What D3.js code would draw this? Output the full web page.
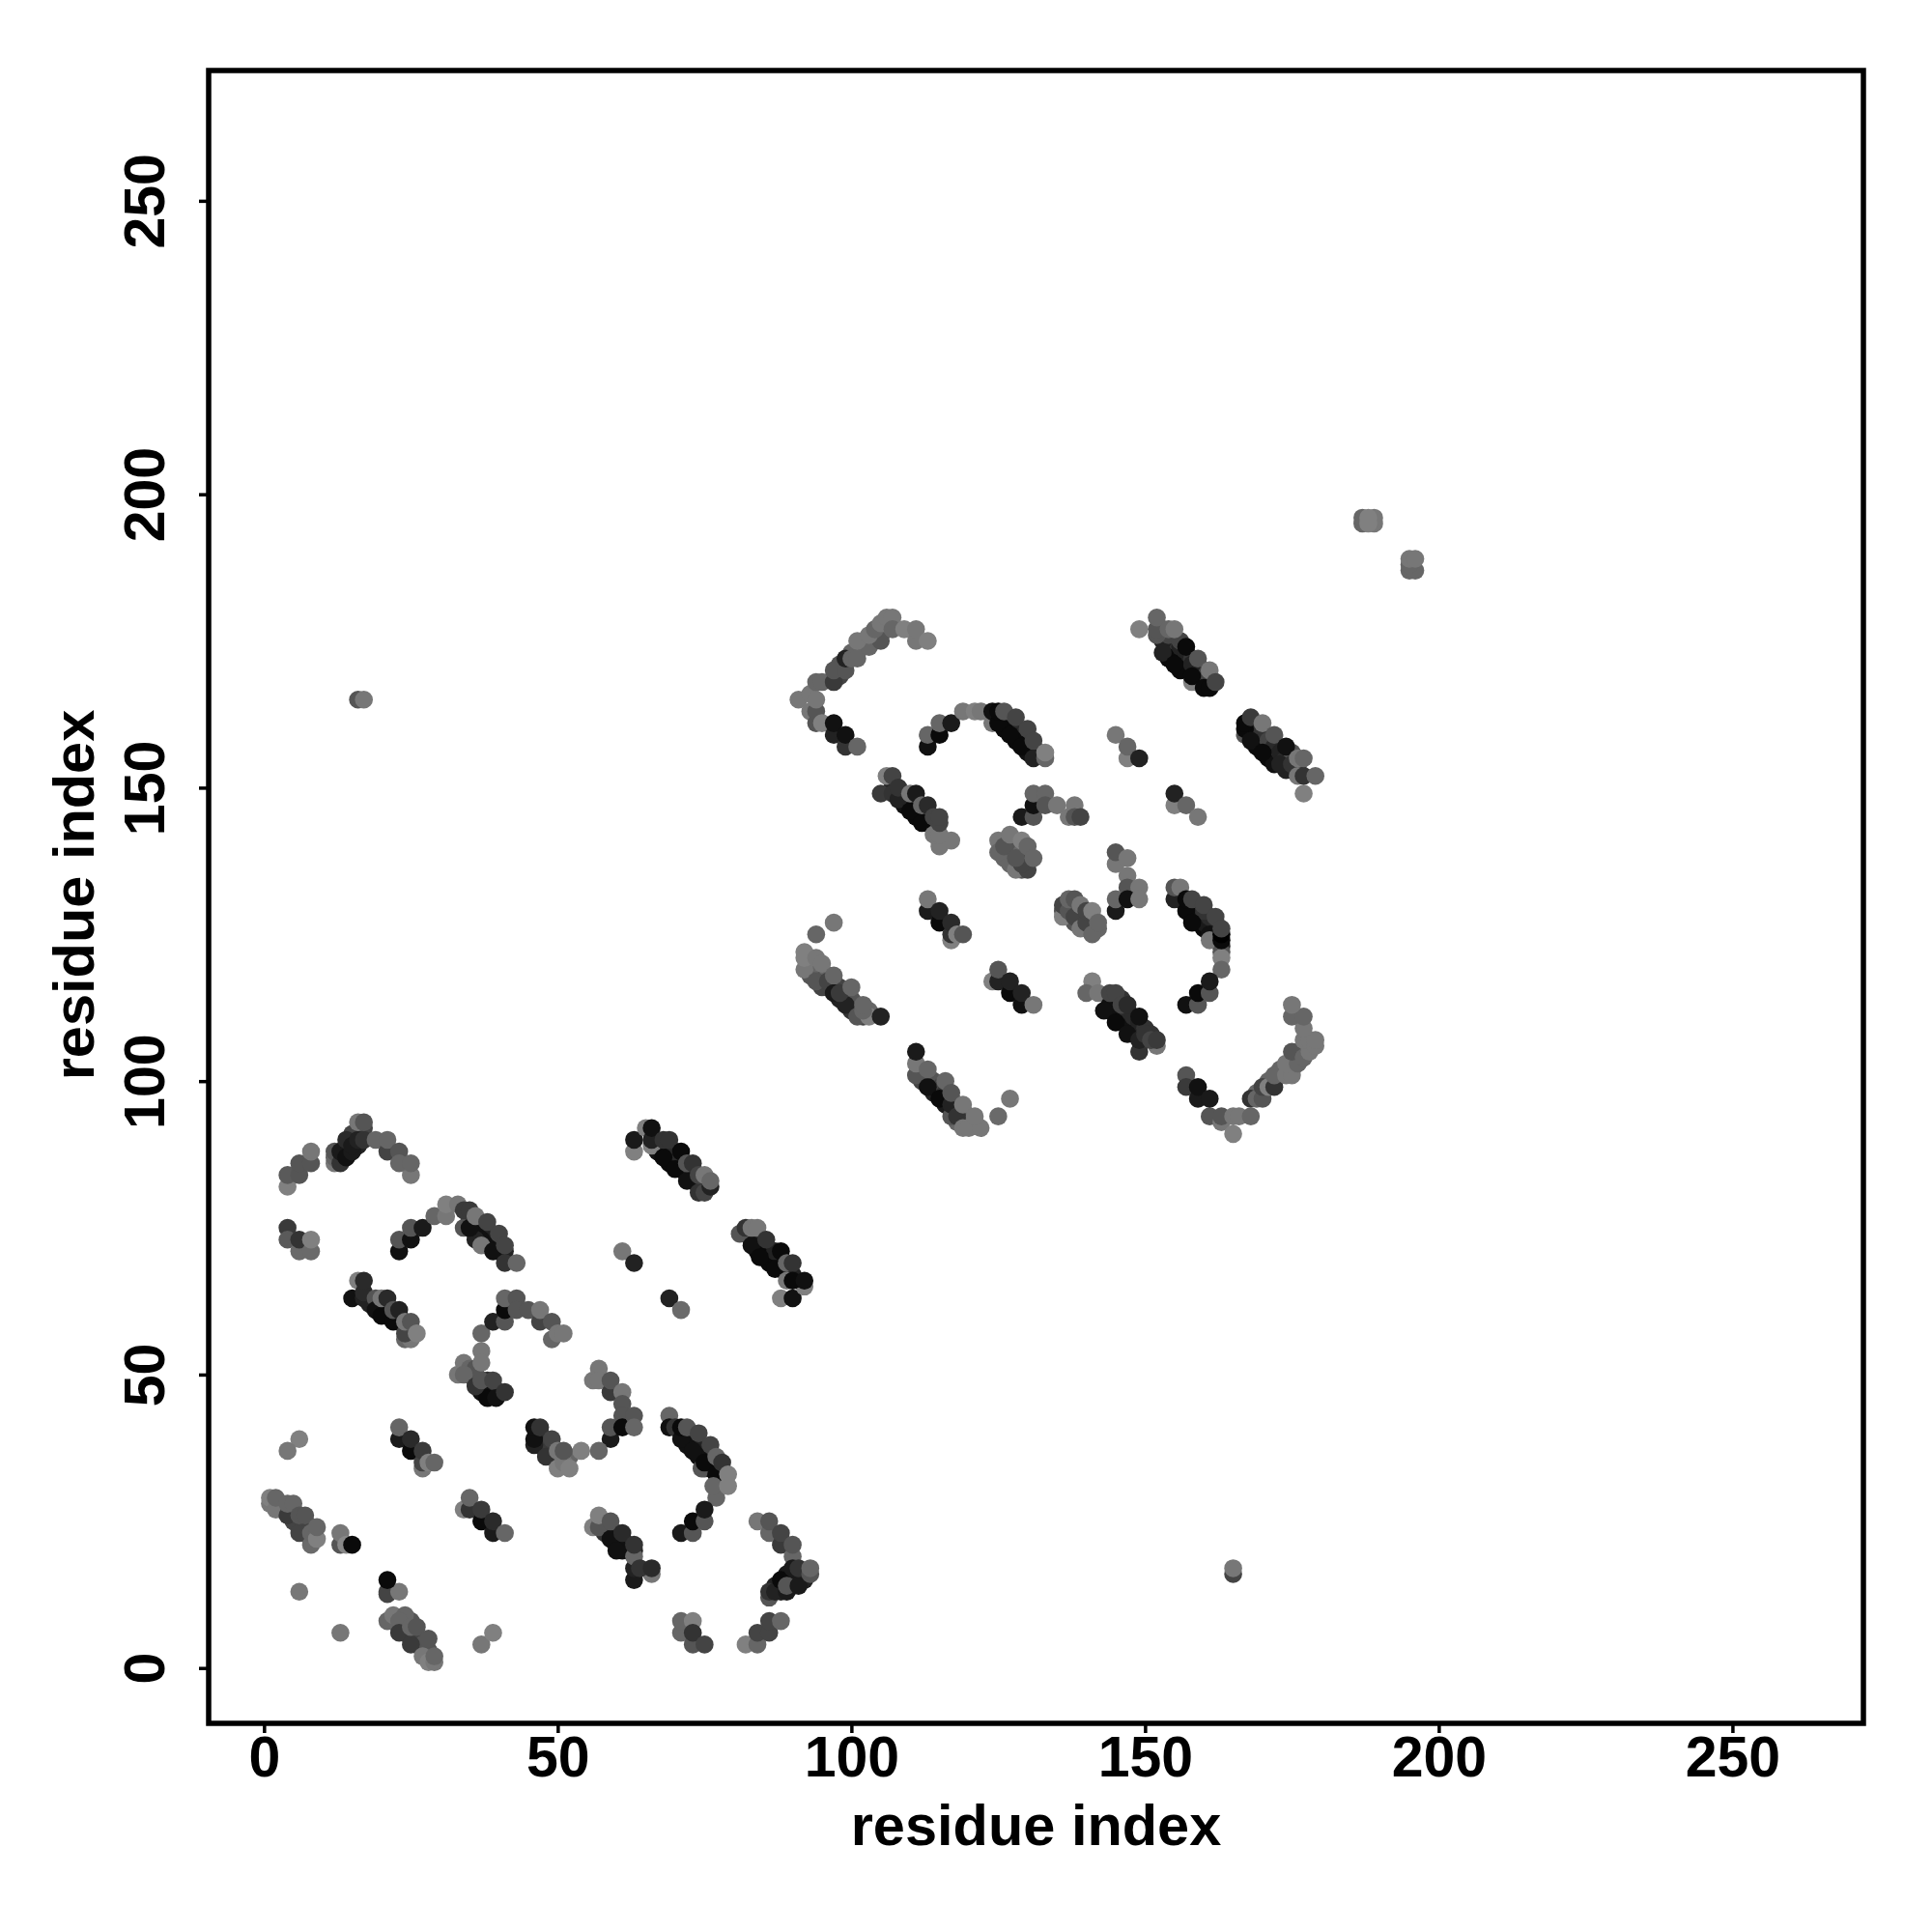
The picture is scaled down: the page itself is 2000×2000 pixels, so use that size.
<!DOCTYPE html>
<html><head><meta charset="utf-8">
<script src="https://cdn.jsdelivr.net/npm/d3@7/dist/d3.min.js"></script>
<style>html,body{margin:0;padding:0;background:#fff}svg{display:block}</style></head>
<body><div id="chart"></div>
<script>
// each contact: [residue i, residue j, grey level]
const arcA=[[4,82,128],[4,84,90],[6,84,85],[6,86,85],[8,86,85],[8,88,119],[12,86,119],[12,87,102],[12,88,85],[13,86,51],[13,88,26],[14,87,17],[15,88,26],[14,90,42],[15,89,26],[16,90,34],[17,90,51],[16,93,119],[17,93,85],[19,90,102],[21,88,68],[21,90,102],[23,88,85],[25,84,119],[23,86,102],[25,86,102]];
const blockB=[[4,75,58],[4,73,90],[6,71,106],[6,73,51],[8,71,106],[8,73,128]];
const arcC=[[23,71,17],[23,73,85],[25,73,17],[25,75,85],[27,75,26],[29,77,102],[31,77,119],[31,79,128],[33,79,119],[34,75,85],[36,73,34],[35,75,17],[37,72,119],[39,71,17],[41,69,51],[34,78,58],[35,78,58],[36,77,119],[38,76,68],[40,74,68],[41,72,68],[43,69,102]];
const strandD=[[16,66,128],[15,63,17],[17,63,34],[17,64,42],[17,66,42],[19,63,85],[19,61,17],[20,60,10],[22,59,10],[20,63,119],[21,63,42],[22,61,85],[23,61,34],[24,56,102],[25,56,119],[24,57,68],[24,59,119],[25,59,85],[26,57,128]];
const arcE=[[37,57,102],[39,59,34],[41,59,85],[41,61,10],[41,63,102],[43,63,85],[43,61,85],[45,61,85],[47,59,68],[47,61,119],[49,59,85],[49,56,102],[50,57,119],[37,54,119],[51,57,119],[57,51,119]];
const blockF=[[34,52,119],[35,51,102],[36,51,85],[37,52,119],[33,50,119],[34,50,102],[38,46,10],[39.5,46,17],[36,48,51],[37,49,85],[39,49,68],[41,47,51]];
const pairsG=[[6,39,128],[4,37,119],[6,13,119],[13,6,119],[37,4,119],[39,6,128],[13,21,85],[13,23,119],[14,21,136],[15,21,10],[21,13,68],[21,12.6,68],[23,13,119],[21,15,10]];
const strandH=[[23,39,26],[23,41,102],[25,37,10],[25,39,42],[27,34,119],[27,35,68],[27,37,58],[28,35,128],[29,35,102]];
const strandI=[[46,38,34],[46,39,17],[46,41,17],[47,41,51],[48,36,51],[49,39,68],[50,34,128],[50,37,119],[52,36,102],[51,35,119],[52,34,128],[54,37,128],[51,37,85]];
const strandJ=[[34,27,128],[35,27,51],[35,29,102],[37,25,10],[37,27,58],[39,23,26],[39,25,42],[41,23,102]];
const strandK=[[1,28,119],[1,29,128],[2,27,119],[2,29,102],[5,25,68],[4,26,58],[4,28,102],[5,28,102],[6,23,68],[6,26,85],[7,26,85],[8,21,106],[8,23,102],[9,22,128],[9,24,102]];
const strandL=[[21,8,102],[22,9,119],[24,9,102],[23,8,102],[23,6,58],[25,4,58],[25,7,102],[26,7,85],[28,5,85],[27,2,119],[28,1,128],[29,1,119],[29,2,102]];
const arcM=[[56,49,119],[57,49,119],[59,47,58],[59,49,85],[61,47,119],[61,45,85],[61,43,85],[59,39,26],[59,41,85],[61,41,10],[63,43,85],[63,41,102],[57,37,102]];
const strandN=[[69,43,102],[69,41,17],[70,41,51],[71,39,17],[73,37,17],[71,41,10],[74.5,34,85],[75,35,10],[72,41,85],[74,40,68],[76,38,68],[77,33,10],[77,29,102],[76.5,31,102],[77,36,102],[78,35,51],[79,31,128],[79,33,128]];
const hookO=[[71,23,26],[73,23,85],[73,25,10],[75,25,85],[75,27,26]];
const strandP=[[56,24,128],[57,24,85],[57,26,128],[59,22,17],[59,25,85],[60,20,17],[61,23,42],[63,15,26],[63,17,34],[63,19,102],[63,21,51],[66,16,119],[64,17,51],[66,17,42]];
const arcQ=[[84,25,119],[86,23,102],[86,25,85],[88,21,58],[88,23,68],[90,19,102],[90,21,85],[86,12,85],[86,13,51],[87,13,34],[89,13,26],[88,15,10],[89,14,85],[91,14,26],[90,17,26],[91,17,51],[93,16,85],[93,17,102]];
const cornerR=[[71,6,102],[71,8,102],[73,8,128],[73,4,85],[73,6,51],[75,4,68]];
const cornerS=[[82,4,128],[84,4,102],[84,6,68],[86,6,68],[86,8,68],[88,8,102]];
const strandT=[[63,88,128],[63,90,26],[65,92,128],[66,89,128],[66,90,34],[66,92,17],[68,87,10],[70,85,10],[72,83,17],[74,81,51],[75,81,68],[68,90,51],[69,90,51],[71,88,10],[72,86,85],[73,86,51],[74,84,68],[76,82,34],[75,84,119],[76,83,102]];
const strandU=[[81,74,85],[82,75,51],[83,72,17],[84.4,70,10],[87,68,10],[88,63,128],[90,63,17],[83,75,119],[84,75,119],[85.5,73,51],[88,71,10],[89,66,119],[89,69,102],[90,69,51],[92,65,128],[90,66,10],[92,66,17]];
const pairsV=[[61,71,119],[63,69,34],[69,63,34],[71,61,106]];
const arcW=[[91,165,119],[93,166,119],[93,163,119],[94,161,85],[94,163,85],[94,165,119],[94,168,102],[95,168,102],[95,161,128],[97,159,34],[97,161,17],[99,157,51],[99,159,17],[101,157,102]];
const arcX=[[97,168,58],[97,170,85],[99,170,85],[99,172,34],[100,172,102],[101,172,102],[103,174,102],[101,175,119],[105,175,85],[103,176,119],[104,177,102],[105,178,119],[106,179,119],[107,179,119],[107,177,102],[109,177,128],[111,175,119],[111,177,119],[113,175,128]];
const arcY=[[113,157,17],[113,159,102],[115,159,10],[115,161,102],[117,161,26],[119,163,119],[121,163,128],[122,163,119],[124,161,119],[124,163,17],[125,161,10],[125,163,10],[127,159,10],[129,157,10],[126,163,85],[128,162,68],[130,160,68],[131,155,34],[131,158,68],[133,155,102],[133,156,128]];
const strandZ=[[106,152,128],[105,149,58],[107,149,51],[107,152,68],[108,148,34],[108,150,51],[110,146,10],[110,149,119],[111,149,26],[112,144,10],[112,147,102],[113,147,42],[115,140,119],[117,141,119],[114,142,119],[115,142,119],[114,145,68],[115,144,68],[115,145,68]];
const ridgeAA=[[129,145,26],[131,145,85],[131,147,17],[131,149,102],[133,149,102],[133,147,85],[135,147,119],[137,145,119],[138,147,119],[138,145,85],[139,145,68]];
const clusterAB=[[125,141,119],[125,139,102],[126,140,85],[127,142,119],[128,136,119],[130,136,68],[129,137,68],[128,138,85],[129,141,128],[130,140,102],[131,138,102]];
const strandAC=[[113,129,26],[113,131,119],[115,127,10],[115,129,34],[117,124,128],[117,125,51],[117,127,42],[118,125,128],[119,125,85]];
const strandAD=[[97,127,119],[94,125,102],[92,119,119],[92,121,128],[92,122,128],[94,117,85],[96,117,68],[97,115,26],[94,121,119],[95,120,119],[99,113,34],[98,115,58],[97,118,102],[101,111,85],[100,116,102],[103,111,128],[102,112,102],[102,113,102],[105,111,34]];
const strandAE=[[124,117,128],[125,117,34],[125,119,85],[127,115,10],[127,117,34],[129,113,17],[129,115,34],[131,113,119]];
const strandAF=[[111,101,85],[111,103,119],[111,105,26],[113,99,17],[115,97,10],[113,102,102],[117,94,85],[117,96,34],[118,94,51],[116,100,102],[117,98,85],[119,92,119],[120,92,119],[122,92,119],[119,96,119],[121,94,119],[125,94,106],[127,97,119]];
const strandAG=[[149,177,128],[152,176,85],[152,177,85],[152,179,102],[153,173,34],[155,171,10],[154,177,102],[155,177,119],[157,174,10],[158,168,128],[158,169,10],[160,167,10],[161,167,10],[159,172,85],[161,170,119],[162,168,68]];
const strandAH=[[167,159,85],[167,160,10],[167,161,10],[168,158,17],[168,162,58],[170,156,10],[170,161,119],[172,159,85],[173,154,34],[174,157,17],[175,154,51],[176,152,119],[177,149,128],[177,152,51],[176,155,119],[177,155,102],[179,152,102]];
const pairsAI=[[145,159,119],[147,155,128],[147,157,102],[149,155,34],[155,147,128],[155,149,34],[157,147,102],[159,145,119]];
const towerAJ=[[145,137,119],[145,139,85],[147,138,119],[147,135,119],[147,133,85],[149,133,119],[145,129,26],[145,131,102],[147,131,17],[149,131,119]];
const clusterAK=[[136,128,128],[136,130,68],[137,129,85],[137,131,102],[138,128,68],[138,131,85],[139,126,119],[139,130,119],[140,127,68],[140,129,68],[141,125,102],[141,129,128],[142,127,102]];
const strandAL=[[155,131,34],[155,133,85],[156,133,119],[157,129,10],[157,131,10],[158,127,10],[158,131,68],[160,130,68],[161,125,17],[161,124,119],[162,128,68],[163,122,85],[163,121,128],[163,119,102],[163,124,10],[163,125,0],[163,126,68]];
const hookAM=[[157,113,17],[159,113,85],[159,115,10],[161,115,85],[161,117,26]];
const strandAN=[[141,117,128],[140,115,102],[142,115,119],[144,113,17],[143,112,17],[145,110,10],[144,115,68],[145,115,68],[146,113,68],[147,113,42],[147,108,17],[149,105,51],[149,107,34],[149,111,17],[150,108,51],[152,106,119],[151,107,68],[152,107,58]];
const arcAO=[[157,101,85],[157,99,58],[159,97,26],[159,99,17],[161,94,85],[161,97,26],[163,93,119],[163,94,85],[165,91,128],[165,94,119],[166,94,119],[168,97,51],[168,94,102],[169,97,102],[170,97,85],[170,99,68],[171,99,128],[172,99,51],[172,101,102],[174,101,119],[175,101,119],[174,103,119],[176,103,102],[175,105,85],[177,104,102],[178,105,119],[177,107,119],[178,107,119],[179,106,119],[179,107,119],[177,109,119],[175,111,102],[177,111,102],[175,113,119]];
const isolatedAP=[[16,165,85],[17,165,119],[165,16,68],[165,17,119],[187,195,102],[187,196,102],[189,195,119],[189,196,119],[188,195,128],[188,196,128],[195,187,102],[196,187,102],[195,188,102],[195,189,119],[196,189,119]];
// ribbon interiors where the marks overlap into a solid band
const ribbonLow=[[35,76,17],[36,75,17],[37,74,17],[38,73,17],[39,72,17],[40,71,17],[37,75,34],[38,74,34],[39,73,34],[40,72,34],[41,71,34],[36,74,17],[37,73,17],[38,72,17],[18,62,34],[19,62,34],[20,61,34],[21,60,34],[22,60,34],[23,59,34],[21,61,34],[23,60,34],[35,50,51],[36,49,51],[37,48,51],[38,47,51],[38,48,51],[39,47,51],[36,50,68],[37,49,51],[38,49,51],[39,48,51],[40,47,51],[37,47,17],[47,40,58],[47,39,58],[48,38,58],[49,37,68],[48,37,58],[49,38,58],[50,36,85],[51,36,85],[47,38,58],[50,35,85],[3,27,68],[4,27,68],[5,26,68],[6,25,68],[7,24,68],[8,24,85],[7,25,68],[6,24,68],[5,27,85],[3,28,85],[7,23,68],[23,7,68],[24,6,68],[25,5,68],[26,4,68],[27,3,85],[24,7,68],[25,6,68],[26,5,68],[27,4,85],[28,3,85],[28,2,85],[24,8,85],[25,8,85],[71,40,17],[72,39,17],[73,38,17],[74,37,17],[75,36,17],[76,35,17],[73,39,34],[74,38,34],[75,37,34],[76,36,34],[77,35,34],[72,38,17],[74,36,17],[75,34,85],[76,34,17],[58,24,34],[59,23,34],[60,22,34],[61,21,34],[62,20,34],[63,20,34],[60,23,42],[61,22,42],[62,21,42],[60,21,17],[61,20,17],[58,23,51],[88,14,26],[89,15,26],[90,15,26],[90,14,26],[91,16,34],[92,16,34],[88,13,34],[89,16,26],[92,15,34],[87,14,34],[14,88,26],[15,90,42],[16,89,34],[16,92,85],[17,92,68],[14,89,42],[13,87,34],[15,91,68]];
const ribbonMid=[[67,89,26],[68,88,17],[69,87,17],[70,86,17],[71,85,17],[72,84,17],[73,83,17],[74,82,26],[67,88,17],[68,89,42],[69,86,10],[70,87,26],[71,86,26],[72,85,34],[73,84,34],[74,83,34],[75,82,51],[69,88,42],[70,88,42],[82,74,17],[83,73,17],[84,72,17],[85,71,17],[86,70,17],[87,69,17],[88,68,17],[89,67,17],[84,73,34],[85,72,34],[86,71,34],[87,70,34],[88,69,34],[89,68,34],[90,67,34],[84,71,10],[85,70,10],[86,69,10],[87,71,34],[126,161,10],[127,160,10],[128,159,10],[129,158,10],[130,157,10],[128,160,42],[129,159,42],[130,158,42],[127,161,42],[131,157,42],[132,156,68],[126,160,10],[128,158,10],[130,156,17],[107,150,34],[108,149,34],[109,148,34],[110,147,26],[111,146,17],[112,145,17],[113,144,26],[109,149,42],[110,148,51],[111,147,51],[112,146,51],[113,145,51],[114,144,68],[109,147,17],[111,145,10],[126,139,85],[127,138,85],[127,140,85],[128,139,85],[127,137,102],[129,139,102],[130,138,85],[129,136,85],[126,138,102]];
const ribbonHigh=[[93,120,102],[94,119,85],[95,118,68],[96,116,58],[98,114,34],[99,114,34],[100,113,51],[100,112,51],[101,113,68],[102,111,68],[93,118,85],[95,116,68],[97,117,85],[98,116,68],[99,115,68],[100,114,85],[101,112,68],[96,118,102],[94,120,102],[93,121,119],[103,112,102],[112,101,85],[113,100,68],[114,99,51],[115,98,34],[116,97,26],[117,95,34],[118,95,51],[119,94,68],[120,93,85],[112,100,68],[114,98,34],[116,96,26],[114,100,85],[115,99,68],[116,98,51],[117,97,51],[118,96,85],[119,95,85],[120,94,102],[121,93,119],[113,101,85],[118,93,102],[154,174,17],[155,173,10],[156,172,10],[157,171,10],[158,170,10],[159,169,10],[160,168,17],[154,172,10],[156,170,10],[155,175,51],[156,174,34],[157,173,34],[158,172,51],[159,171,51],[160,170,68],[161,169,68],[153,175,34],[153,177,85],[154,176,68],[156,175,68],[158,171,34],[168,160,17],[169,159,10],[170,158,10],[171,157,10],[172,156,17],[173,155,17],[174,154,26],[175,153,26],[169,157,10],[171,155,10],[172,154,17],[169,160,51],[170,159,51],[171,158,68],[172,157,42],[173,156,34],[174,155,42],[175,156,85],[176,154,85],[176,153,51],[174,153,34]];
const ribbonUpper=[[137,130,85],[138,129,85],[139,128,85],[140,128,85],[139,127,85],[141,127,85],[141,126,85],[142,126,102],[138,127,85],[136,129,85],[139,129,85],[140,126,102],[158,130,10],[159,129,10],[160,128,17],[161,127,17],[162,126,17],[159,127,10],[160,126,10],[161,126,10],[158,129,10],[159,128,26],[160,127,26],[161,128,42],[162,127,42],[162,125,10],[163,123,34],[157,130,10],[162,124,10],[160,129,51],[145,114,26],[146,112,26],[147,111,26],[148,110,26],[148,109,34],[149,109,42],[150,107,42],[145,112,10],[146,111,10],[147,110,17],[146,114,51],[147,112,42],[148,111,42],[149,110,34],[150,109,51],[145,113,26],[144,112,17],[151,108,51],[173,102,102],[175,103,102],[176,104,102],[176,105,119],[177,105,102],[178,106,119],[173,101,102],[171,100,102],[169,98,102],[98,169,68],[98,171,85],[100,173,102],[102,174,102],[102,175,102],[104,176,102],[105,176,102],[106,177,102],[104,175,102],[106,178,119]];
const contactGroups=[ribbonLow,ribbonMid,ribbonHigh,ribbonUpper,arcA,blockB,arcC,strandD,arcE,blockF,pairsG,strandH,strandI,strandJ,strandK,strandL,arcM,strandN,hookO,strandP,arcQ,cornerR,cornerS,strandT,strandU,pairsV,arcW,arcX,arcY,strandZ,ridgeAA,clusterAB,strandAC,strandAD,strandAE,strandAF,strandAG,strandAH,pairsAI,towerAJ,clusterAK,strandAL,hookAM,strandAN,arcAO,isolatedAP];
const xTicks=[0,50,100,150,200,250];
const yTicks=[0,50,100,150,200,250];
const axisTitle="residue index";

const L=216,R=1929,T=73,B=1784;
const svg=d3.select("#chart").append("svg").attr("width",2000).attr("height",2000);
const x=d3.scaleLinear().domain([-9.43,272.3]).range([L,R]);
const y=d3.scaleLinear().domain([-9.43,272.2]).range([B,T]);
const grey=d3.scaleLinear().domain([0,255]).range(["#000","#fff"]);
const font='"Liberation Sans",Arial,sans-serif';

svg.append("g").selectAll("g").data(contactGroups).join("g")
  .selectAll("circle").data(d=>d).join("circle")
  .attr("cx",d=>x(d[0])).attr("cy",d=>y(d[1])).attr("r",9.3).attr("fill",d=>grey(d[2]));

svg.append("rect").attr("x",L).attr("y",T).attr("width",R-L).attr("height",B-T)
  .attr("fill","none").attr("stroke","#000").attr("stroke-width",5.5);

const gx=svg.append("g").attr("transform",`translate(0,${B})`)
  .call(d3.axisBottom(x).tickValues(xTicks).tickSize(10).tickPadding(0).tickFormat(d3.format("d")));
const gy=svg.append("g").attr("transform",`translate(${L},0)`)
  .call(d3.axisLeft(y).tickValues(yTicks).tickSize(10).tickPadding(0).tickFormat(d3.format("d")));
[gx,gy].forEach(g=>{
  g.select(".domain").remove();
  g.selectAll("line").attr("stroke","#000").attr("stroke-width",3.5);
  g.selectAll("text").attr("fill","#000").attr("font-family",font).attr("font-weight","bold").attr("font-size",59);
});
gx.selectAll("text").attr("dy",null).attr("y",55).attr("text-anchor","middle");
gy.selectAll("text").attr("dy",null).attr("x",null).attr("y",null).attr("text-anchor","middle")
  .attr("transform","translate(-46,0) rotate(-90)");

svg.append("text").attr("x",(L+R)/2).attr("y",1910).attr("text-anchor","middle")
  .attr("font-family",font).attr("font-weight","bold").attr("font-size",59.5).text(axisTitle);
svg.append("text").attr("transform",`translate(97,${(T+B)/2-2}) rotate(-90)`).attr("text-anchor","middle")
  .attr("font-family",font).attr("font-weight","bold").attr("font-size",59.5).text(axisTitle);
</script></body></html>
